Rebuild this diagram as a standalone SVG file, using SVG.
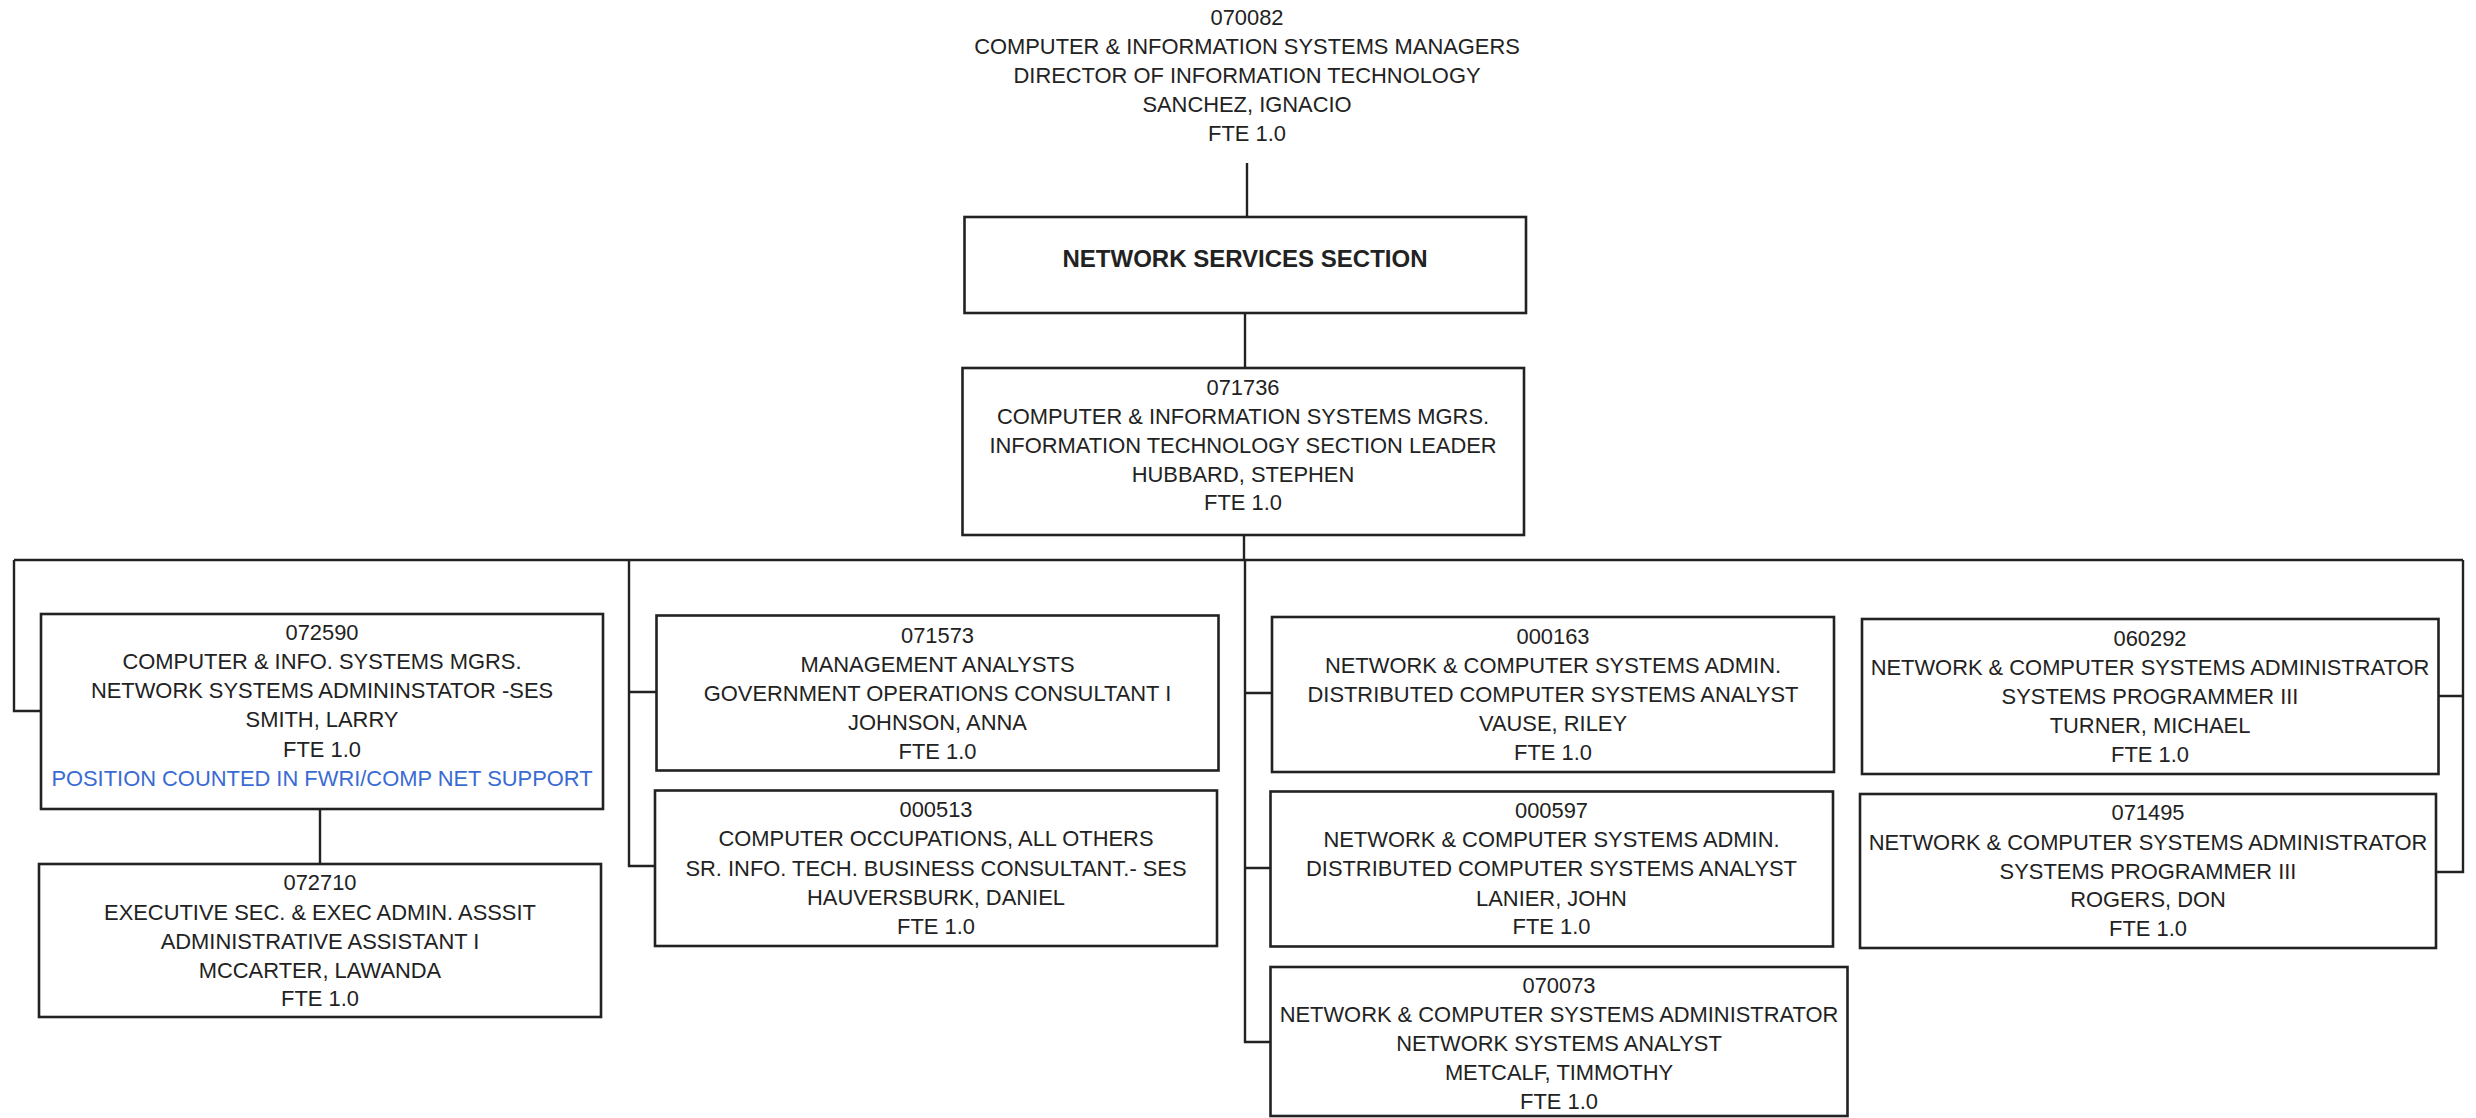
<svg xmlns="http://www.w3.org/2000/svg" width="2476" height="1118" viewBox="0 0 2476 1118">
  <style>
    .box { fill: #ffffff; stroke: #222222; stroke-width: 2.6; }
    .conn { fill: none; stroke: #222222; stroke-width: 2.4; }
    .t { font-family: "Liberation Sans", Arial, sans-serif; font-size: 21.9px; fill: #222222; text-anchor: middle; }
    .hdr { font-family: "Liberation Sans", Arial, sans-serif; font-size: 24px; font-weight: bold; fill: #222222; text-anchor: middle; }
    .note { fill: #3a6bd3; }
  </style>
  <rect width="2476" height="1118" fill="#ffffff"/>

  <!-- reporting lines -->
  <g id="connectors">
    <path class="conn" d="M1247,163 V217"/>
    <path class="conn" d="M1245,313 V368"/>
    <path class="conn" d="M1244,535 V560"/>
    <path class="conn" d="M14,560 H2463"/>
    <path class="conn" d="M14,560 V711 H41"/>
    <path class="conn" d="M320,809 V864"/>
    <path class="conn" d="M629,560 V866 H655 M629,692 H656.5"/>
    <path class="conn" d="M1245,560 V1042 H1270.5 M1245,693 H1272 M1245,868 H1270.5"/>
    <path class="conn" d="M2463,560 V872 H2436 M2463,696 H2438"/>
  </g>

  <!-- director (no frame) -->
  <g id="n070082">
    <text class="t" x="1247" y="25">070082</text>
    <text class="t" x="1247" y="54">COMPUTER &amp; INFORMATION SYSTEMS MANAGERS</text>
    <text class="t" x="1247" y="83">DIRECTOR OF INFORMATION TECHNOLOGY</text>
    <text class="t" x="1247" y="112">SANCHEZ, IGNACIO</text>
    <text class="t" x="1247" y="141">FTE 1.0</text>
  </g>

  <g id="network-services-section">
    <rect class="box" x="964.5" y="217" width="561.5" height="96"/>
    <text class="hdr" x="1245" y="267">NETWORK SERVICES SECTION</text>
  </g>

  <g id="n071736">
    <rect class="box" x="962.5" y="368" width="561.5" height="167"/>
    <text class="t" x="1243" y="395">071736</text>
    <text class="t" x="1243" y="424">COMPUTER &amp; INFORMATION SYSTEMS MGRS.</text>
    <text class="t" x="1243" y="453">INFORMATION TECHNOLOGY SECTION LEADER</text>
    <text class="t" x="1243" y="482">HUBBARD, STEPHEN</text>
    <text class="t" x="1243" y="510">FTE 1.0</text>
  </g>

  <g id="n072590">
    <rect class="box" x="41" y="614" width="562" height="195"/>
    <text class="t" x="322" y="640">072590</text>
    <text class="t" x="322" y="669">COMPUTER &amp; INFO. SYSTEMS MGRS.</text>
    <text class="t" x="322" y="698">NETWORK SYSTEMS ADMININSTATOR -SES</text>
    <text class="t" x="322" y="727">SMITH, LARRY</text>
    <text class="t" x="322" y="756.5">FTE 1.0</text>
    <text class="t note" x="322" y="785.5">POSITION COUNTED IN FWRI/COMP NET SUPPORT</text>
  </g>

  <g id="n072710">
    <rect class="box" x="39" y="864" width="562" height="153"/>
    <text class="t" x="320" y="890">072710</text>
    <text class="t" x="320" y="919.5">EXECUTIVE SEC. &amp; EXEC ADMIN. ASSSIT</text>
    <text class="t" x="320" y="948.5">ADMINISTRATIVE ASSISTANT I</text>
    <text class="t" x="320" y="977.5">MCCARTER, LAWANDA</text>
    <text class="t" x="320" y="1006">FTE 1.0</text>
  </g>

  <g id="n071573">
    <rect class="box" x="656.5" y="615.5" width="562" height="155"/>
    <text class="t" x="937.5" y="642.5">071573</text>
    <text class="t" x="937.5" y="671.5">MANAGEMENT ANALYSTS</text>
    <text class="t" x="937.5" y="700.5">GOVERNMENT OPERATIONS CONSULTANT I</text>
    <text class="t" x="937.5" y="730">JOHNSON, ANNA</text>
    <text class="t" x="937.5" y="759">FTE 1.0</text>
  </g>

  <g id="n000513">
    <rect class="box" x="655" y="790.5" width="562" height="155.5"/>
    <text class="t" x="936" y="816.5">000513</text>
    <text class="t" x="936" y="846">COMPUTER OCCUPATIONS, ALL OTHERS</text>
    <text class="t" x="936" y="875.5">SR. INFO. TECH. BUSINESS CONSULTANT.- SES</text>
    <text class="t" x="936" y="905">HAUVERSBURK, DANIEL</text>
    <text class="t" x="936" y="933.5">FTE 1.0</text>
  </g>

  <g id="n000163">
    <rect class="box" x="1272" y="617" width="562" height="155"/>
    <text class="t" x="1553" y="644">000163</text>
    <text class="t" x="1553" y="673">NETWORK &amp; COMPUTER SYSTEMS ADMIN.</text>
    <text class="t" x="1553" y="702">DISTRIBUTED COMPUTER SYSTEMS ANALYST</text>
    <text class="t" x="1553" y="731">VAUSE, RILEY</text>
    <text class="t" x="1553" y="760">FTE 1.0</text>
  </g>

  <g id="n000597">
    <rect class="box" x="1270.5" y="791.5" width="562.5" height="155"/>
    <text class="t" x="1551.5" y="818">000597</text>
    <text class="t" x="1551.5" y="847">NETWORK &amp; COMPUTER SYSTEMS ADMIN.</text>
    <text class="t" x="1551.5" y="876">DISTRIBUTED COMPUTER SYSTEMS ANALYST</text>
    <text class="t" x="1551.5" y="905.5">LANIER, JOHN</text>
    <text class="t" x="1551.5" y="934">FTE 1.0</text>
  </g>

  <g id="n070073">
    <rect class="box" x="1270.5" y="967" width="577" height="149"/>
    <text class="t" x="1559" y="993">070073</text>
    <text class="t" x="1559" y="1022">NETWORK &amp; COMPUTER SYSTEMS ADMINISTRATOR</text>
    <text class="t" x="1559" y="1051">NETWORK SYSTEMS ANALYST</text>
    <text class="t" x="1559" y="1080">METCALF, TIMMOTHY</text>
    <text class="t" x="1559" y="1108.5">FTE 1.0</text>
  </g>

  <g id="n060292">
    <rect class="box" x="1862" y="619" width="576.5" height="155"/>
    <text class="t" x="2150" y="646">060292</text>
    <text class="t" x="2150" y="675">NETWORK &amp; COMPUTER SYSTEMS ADMINISTRATOR</text>
    <text class="t" x="2150" y="703.5">SYSTEMS PROGRAMMER III</text>
    <text class="t" x="2150" y="732.5">TURNER, MICHAEL</text>
    <text class="t" x="2150" y="761.5">FTE 1.0</text>
  </g>

  <g id="n071495">
    <rect class="box" x="1860" y="794" width="576" height="154"/>
    <text class="t" x="2148" y="820">071495</text>
    <text class="t" x="2148" y="849.5">NETWORK &amp; COMPUTER SYSTEMS ADMINISTRATOR</text>
    <text class="t" x="2148" y="878.5">SYSTEMS PROGRAMMER III</text>
    <text class="t" x="2148" y="907">ROGERS, DON</text>
    <text class="t" x="2148" y="936">FTE 1.0</text>
  </g>
</svg>
